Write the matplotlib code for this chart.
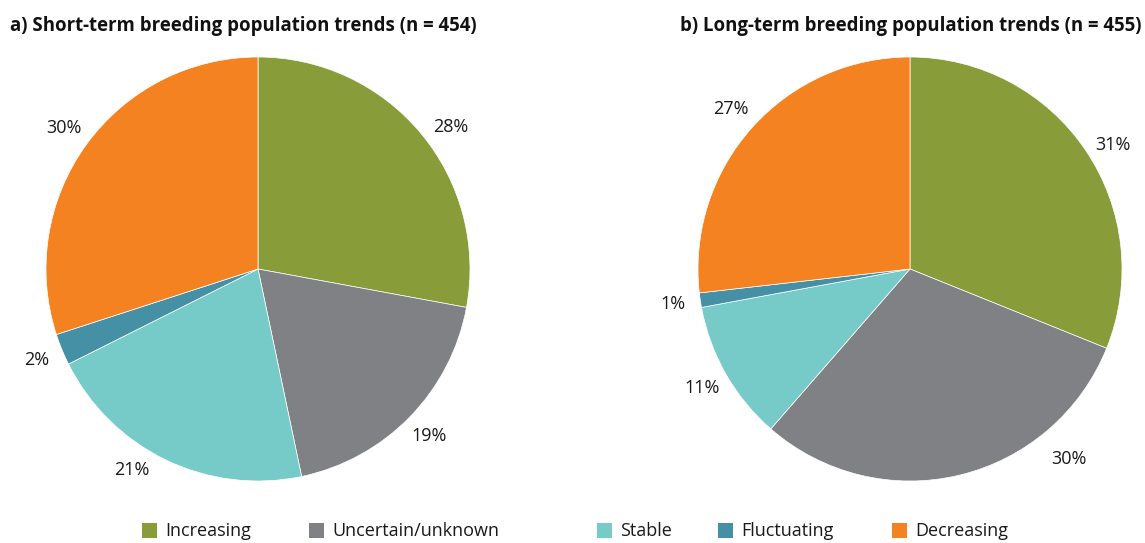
import matplotlib
matplotlib.use("Agg")
import matplotlib.pyplot as plt
from matplotlib.patches import Rectangle
import numpy as np

plt.rcParams['font.family'] = ['Open Sans', 'DejaVu Sans']

categories = ["Increasing", "Uncertain/unknown", "Stable", "Fluctuating", "Decreasing"]
colors = ["#889D39", "#808184", "#76CBC9", "#4690A5", "#F58220"]
short_term = [27.9, 18.8, 20.9, 2.4, 30.0]
long_term = [31.1, 30.3, 10.7, 1.1, 26.8]
titles = ["a) Short-term breeding population trends (n = 454)",
          "b) Long-term breeding population trends (n = 455)"]

W, H = 1145, 543
fig = plt.figure(figsize=(W / 100, H / 100), dpi=100)

def px_axes(cx, cy, r):
    return fig.add_axes([(cx - r) / W, (H - cy - r) / H, 2 * r / W, 2 * r / H])

ax1 = px_axes(258, 269, 212)
ax2 = px_axes(910, 269, 212)

def place(t, deg, dist):
    a = np.deg2rad(deg)
    t.set_position((dist * np.cos(a), dist * np.sin(a)))

for ax, vals in ((ax1, short_term), (ax2, long_term)):
    wedges, texts, autos = ax.pie(vals, colors=colors, startangle=90, counterclock=False,
                                  autopct=lambda p: f"{p:.0f}%", pctdistance=1.13,
                                  textprops=dict(fontsize=13, color="#1a1a1a"),
                                  wedgeprops=dict(linewidth=0.5, edgecolor="white"))
    ax.set_xlim(-1, 1)
    ax.set_ylim(-1, 1)
    ax.set_aspect('equal')
    if ax is ax1:
        place(autos[0], 36.5, 1.13)
        place(autos[2], -122, 1.12)
    if ax is ax2:
        place(autos[0], 31.5, 1.12)
        place(autos[1], -50, 1.17)

fig.text(10 / W, 1 - 26 / H, titles[0], fontsize=13.4, fontweight='bold', ha='left', va='center', color="#111111")
fig.text(1142 / W, 1 - 26 / H, titles[1], fontsize=13.4, fontweight='bold', ha='right', va='center', color="#111111")

legend_x = [142, 309, 597, 718, 892]
for x, c, lab in zip(legend_x, colors, categories):
    fig.patches.append(Rectangle((x / W, 1 - 538 / H), 15 / W, 15 / H, transform=fig.transFigure,
                                 facecolor=c, edgecolor='none'))
    fig.text((x + 23) / W, 1 - 531 / H, lab, fontsize=13, ha='left', va='center', color="#1a1a1a")

fig.savefig("out.png", dpi=100)
